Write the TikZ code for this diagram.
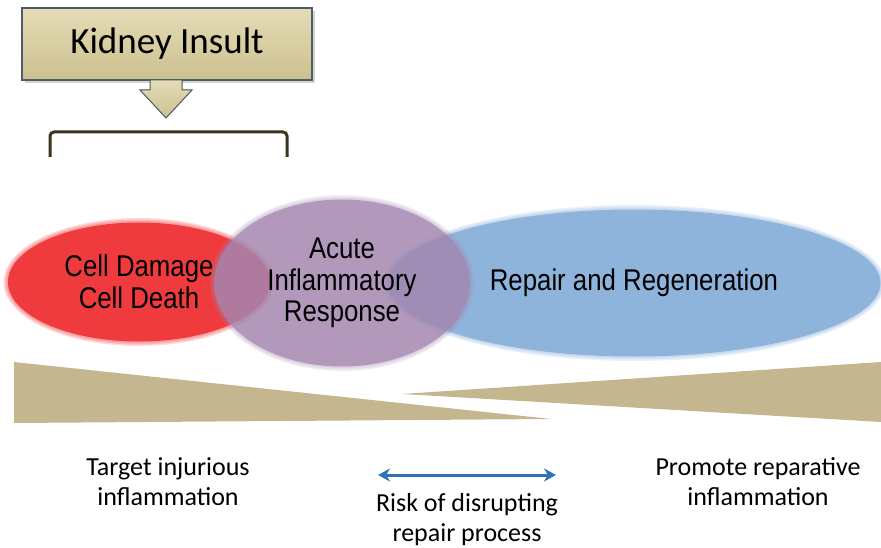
\documentclass[tikz,border=0pt]{standalone}
\usepackage{fontspec}
\setmainfont{Carlito}
\newfontfamily\arialfont[FakeStretch=0.86]{Liberation Sans}
\usetikzlibrary{shapes,arrows.meta,positioning,calc,shadows}

\definecolor{tantop}{HTML}{E4DCB6}
\definecolor{tanbottom}{HTML}{CDC08F}
\definecolor{boxedge}{HTML}{4E5C6A}
\definecolor{wedgetan}{HTML}{C4B790}
\definecolor{damagered}{HTML}{EF3B3D}
\definecolor{responsepurple}{HTML}{A487B0}
\definecolor{repairblue}{HTML}{8FB4DC}
\definecolor{arrowblue}{HTML}{2E74B5}
\definecolor{bracketbrown}{HTML}{3B3320}

\begin{document}
\begin{tikzpicture}[x=1pt, y=-1pt,
    insult/.style={rectangle, draw=boxedge, line width=2.5pt, top color=tantop, bottom color=tanbottom, minimum width=290pt, minimum height=72pt, font=\fontsize{37}{40}\selectfont, drop shadow={shadow xshift=3pt, shadow yshift=-3pt, opacity=0.35}},
    phase/.style={ellipse, inner sep=0pt, align=center, font=\arialfont\fontsize{30}{31.5}\selectfont},
    halo/.style={ellipse, inner sep=0pt, fill opacity=0.2},
    note/.style={align=center, font=\fontsize{26}{30}\selectfont},
    wedge/.style={fill=wedgetan},
    arrow/.style={<->, >={Stealth[length=12pt,width=13pt]}, line width=3pt, draw=arrowblue}
]
    \useasboundingbox (0,0) rectangle (881,548);

    % insult box and its arrow
    \node[insult] (insult) at (167,44) {Kidney Insult};
    \fill[top color=tantop, bottom color=tanbottom, draw=boxedge, line width=1pt]
        (150,80) -- (182,80) -- (182,90) -- (192,90) -- (166,118) -- (140,90) -- (150,90) -- cycle;
    \draw[bracketbrown, line width=3pt, rounded corners=4pt] (50,157) -- (50,132) -- (287,132) -- (287,157);

    % soft edges
    \foreach \grow in {3,6,9} {
        \node[halo, fill=damagered, minimum width=262pt+\grow pt, minimum height=119pt+\grow pt] at (139,282) {};
        \node[halo, fill=repairblue, minimum width=493pt+\grow pt, minimum height=147pt+\grow pt] at (634,283) {};
    }

    % phases
    \node[phase, fill=damagered, minimum width=262pt, minimum height=119pt] (damage) at (139,282) {Cell Damage\\Cell Death};
    \node[phase, fill=repairblue, minimum width=493pt, minimum height=147pt] (repair) at (634,283) {Repair and Regeneration};
    \foreach \grow in {3,6,9}
        \node[halo, fill=responsepurple, fill opacity=0.15, minimum width=256pt+\grow pt, minimum height=167pt+\grow pt] at (342,283) {};
    \node[phase, fill=responsepurple, fill opacity=0.75, text opacity=1, minimum width=256pt, minimum height=167pt] (response) at (342,283) {Acute\\Inflammatory\\Response};

    % wedges
    \fill[wedge] (14,362) -- (551,419) -- (14,423) -- cycle;
    \fill[wedge] (402,394) -- (881,362) -- (881,422) -- cycle;

    % notes
    \node[note] (target) at (168,482) {Target injurious\\inflammation};
    \node[note] (promote) at (758,482) {Promote reparative\\inflammation};
    \node[note] (risk) at (467,520) {Risk of disrupting\\repair process};
    \coordinate (riskL) at (378,475);
    \coordinate (riskR) at (556,475);
    \draw[arrow] (riskL) -- (riskR);
\end{tikzpicture}
\end{document}
